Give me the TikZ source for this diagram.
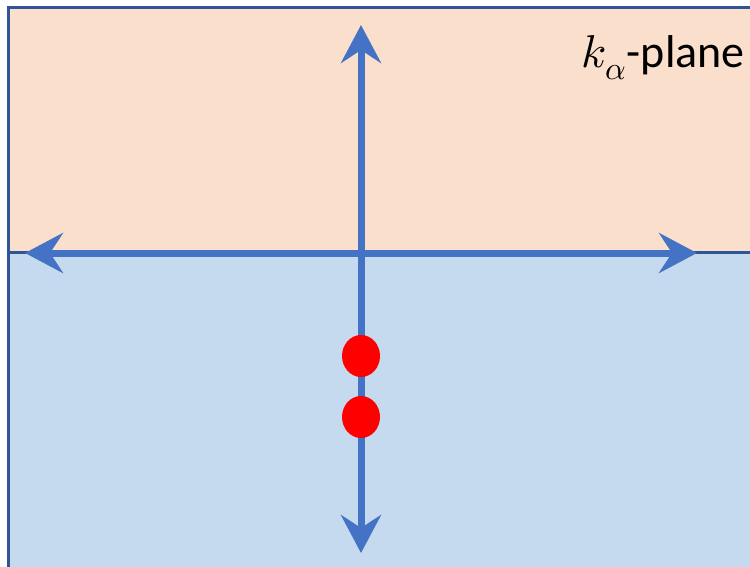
\documentclass[tikz,border=0pt]{standalone}
\usepackage{fontspec}
\usepackage{unicode-math}
\setmainfont{Carlito}
\setmathfont{Latin Modern Math}
\usetikzlibrary{arrows.meta,shapes.geometric}
\definecolor{peach}{HTML}{FADFCC}
\definecolor{paleblue}{HTML}{C5DAEE}
\definecolor{edgeblue}{HTML}{2F5597}
\definecolor{axisblue}{HTML}{4472C4}
\tikzset{
  region/.style={draw=edgeblue, line width=3pt},
  axis/.style={draw=axisblue, line width=7pt,
    arrows={Stealth[length=38pt,width=40pt,inset=13pt,fill=axisblue]-Stealth[length=38pt,width=40pt,inset=13pt,fill=axisblue]}},
  pole/.style={ellipse, fill=red, minimum width=38pt, minimum height=42pt, inner sep=0pt},
}
\begin{document}
\begin{tikzpicture}[x=1pt,y=-1pt]
\useasboundingbox (0,0) rectangle (750,567);
\begin{scope}
\clip (0,0) rectangle (750,567);
\fill[peach] (8,8) rectangle (760,252);
\fill[paleblue] (8,252) rectangle (760,580);
\draw[region] (8,8) rectangle (760,252);
\draw[region] (8,252) rectangle (760,580);
\end{scope}
\coordinate (left) at (25,253);
\coordinate (right) at (697,253);
\coordinate (top) at (361,25);
\coordinate (bottom) at (361,553);
\draw[axis] (left) -- (right);
\draw[axis] (bottom) -- (top);
\node[pole] (p1) at (361,356) {};
\node[pole] (p2) at (361,417) {};
\node[anchor=base east, inner sep=0pt, font=\fontsize{46}{50}\selectfont] (lbl) at (745,68) {$k_\alpha$-plane};
\end{tikzpicture}
\end{document}
